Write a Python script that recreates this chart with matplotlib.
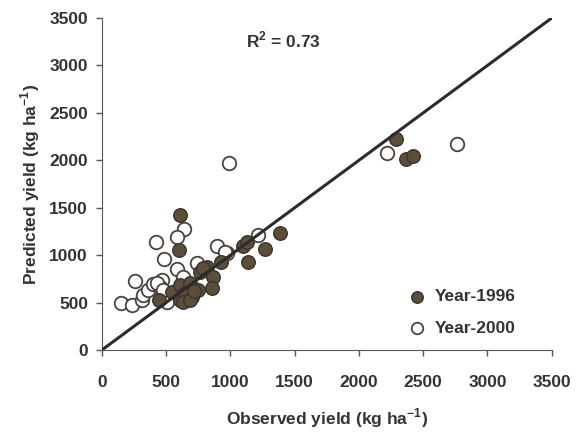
import numpy as np
import matplotlib.pyplot as plt

plt.rcParams['font.family'] = ['Liberation Sans', 'DejaVu Sans']
plt.rcParams['font.weight'] = 'bold'
plt.rcParams['mathtext.fontset'] = 'custom'
plt.rcParams['mathtext.rm'] = 'Liberation Sans:bold'
plt.rcParams['mathtext.bf'] = 'Liberation Sans:bold'

# dati (kg/ha)
obs_1996 = [607, 599, 443, 545, 607, 607, 669, 645, 684, 747, 762, 817, 863,
            855, 925, 1097, 1130, 1135, 1268, 1384, 700, 630, 684, 720, 790,
            2287, 2364, 2419]
pred_1996 = [1421, 1053, 526, 610, 684, 526, 547, 600, 705, 632, 821, 874, 768,
             653, 926, 1100, 1140, 926, 1063, 1232, 558, 505, 526, 620, 860,
             2221, 2011, 2042]

obs_2000 = [638, 583, 420, 482, 894, 583, 739, 972, 1213, 257, 148, 233, 311,
            319, 358, 397, 467, 451, 506, 630, 560, 988, 2217, 2761, 428, 475,
            957, 630]
pred_2000 = [1274, 1189, 1137, 958, 1095, 858, 916, 1021, 1210, 726, 495, 474,
             526, 579, 632, 695, 737, 663, 505, 750, 610, 1968, 2074, 2168, 705,
             632, 1032, 768]

ticks = np.arange(0, 3501, 500)
r2 = 0.73

fig = plt.figure(figsize=(5.82, 4.34), dpi=100)
ax = fig.add_axes([0.175, 0.1935, 0.773, 0.765])

ax.scatter(obs_2000, pred_2000, s=95, facecolor='white', edgecolor='#4a423c',
           linewidth=1.3, label='Year-2000', zorder=2)
ax.scatter(obs_1996, pred_1996, s=95, facecolor='#5b4f3b', edgecolor='#3a332b',
           linewidth=1.0, label='Year-1996', zorder=3)

# linea 1:1
ax.plot([0, 3500], [0, 3500], color='#2b2b2b', linewidth=2.2, zorder=4)

ax.set_xlim(0, 3500)
ax.set_ylim(0, 3500)
ax.set_xticks(ticks)
ax.set_yticks(ticks)
ax.tick_params(direction='out', length=4, width=1, color='#555555',
               labelsize=12.5, labelcolor='#333333')
ax.tick_params(axis='x', pad=14)
ax.tick_params(axis='y', pad=6)
for lab in ax.get_xticklabels() + ax.get_yticklabels():
    lab.set_fontweight('bold')
ax.spines['top'].set_visible(False)
ax.spines['right'].set_visible(False)
ax.spines['left'].set_color('#555555')
ax.spines['bottom'].set_color('#555555')

ax.set_xlabel(r'Observed yield (kg ha$^{-1}$)', fontsize=12.5,
              fontweight='bold', color='#333333', labelpad=12)
ax.set_ylabel(r'Predicted yield (kg ha$^{-1}$)', fontsize=12.5,
              fontweight='bold', color='#333333', labelpad=5)

ax.text(1415, 3265, r'R$^{2}$ = ' + str(r2), fontsize=12.5, fontweight='bold',
        color='#333333', ha='center', va='center')

handles, labels = ax.get_legend_handles_labels()
leg = ax.legend(handles[::-1], labels[::-1], loc='lower right',
                bbox_to_anchor=(0.955, -0.005), frameon=False, fontsize=12.5,
                handletextpad=0.05, markerscale=0.85, labelspacing=0.95)
for t in leg.get_texts():
    t.set_fontweight('bold')
    t.set_color('#333333')

fig.savefig('out.png', dpi=100)
